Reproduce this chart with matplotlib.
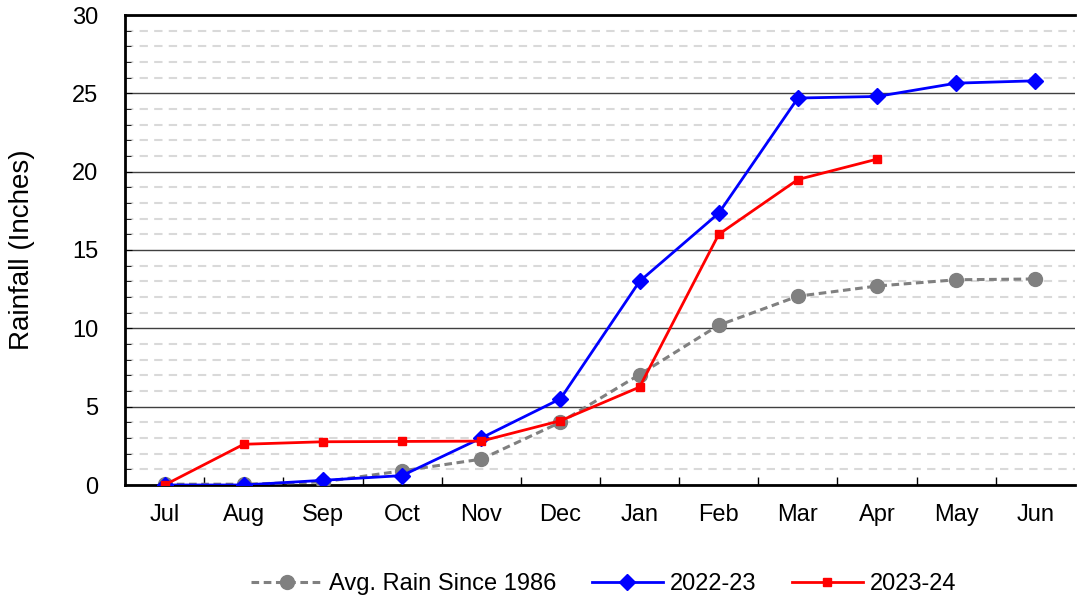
import matplotlib
matplotlib.use("Agg")
import matplotlib.pyplot as plt
from matplotlib.ticker import MultipleLocator, FixedLocator
import numpy as np

plt.rcParams['font.family'] = ['Liberation Sans', 'DejaVu Sans']

months = ["Jul", "Aug", "Sep", "Oct", "Nov", "Dec", "Jan", "Feb", "Mar", "Apr", "May", "Jun"]
avg_rain = [0.05, 0.05, 0.2, 0.9, 1.65, 4.0, 7.05, 10.2, 12.05, 12.7, 13.1, 13.15]
rain_2022_23 = [0.0, 0.0, 0.3, 0.6, 3.0, 5.5, 13.0, 17.35, 24.7, 24.8, 25.65, 25.8]
rain_2023_24 = [0.0, 2.6, 2.76, 2.78, 2.8, 4.1, 6.25, 16.0, 19.5, 20.8]

fig = plt.figure(figsize=(10.78, 6.01), dpi=100)
ax = fig.add_axes([125/1078, 1-485/601, 950/1078, 470/601])

x = np.arange(len(months)) + 0.5
ax.plot(x, avg_rain, color='#808080', linestyle=(0, (2.5, 1.5)), linewidth=2.2, marker='o', markersize=10,
        label='Avg. Rain Since 1986', zorder=3)
ax.plot(x, rain_2022_23, color='#0000ff', linewidth=2, marker='D', markersize=8,
        label='2022-23', zorder=4)
ax.plot(x[:len(rain_2023_24)], rain_2023_24, color='#ff0000', linewidth=2, marker='s', markersize=6,
        label='2023-24', zorder=5)

ax.set_xlim(0, 12)
ax.set_ylim(0, 30)
ax.set_xticks(x)
ax.set_xticklabels(months, fontsize=17)
ax.xaxis.set_minor_locator(FixedLocator(np.arange(1, 12)))
ax.tick_params(axis='x', which='major', length=0, pad=14)
ax.tick_params(axis='x', which='minor', direction='in', length=6, width=1, color='#000000')
ax.yaxis.set_major_locator(MultipleLocator(5))
ax.yaxis.set_minor_locator(MultipleLocator(1))
ax.tick_params(axis='y', which='major', direction='in', length=5, labelsize=17, pad=19)
ax.tick_params(axis='y', which='minor', direction='in', length=4)
ax.grid(which='major', axis='y', color='#404040', linewidth=1, linestyle='-', zorder=1)
ax.grid(which='minor', axis='y', color='#d9d9d9', linewidth=1.5, linestyle=(0, (4, 3)), zorder=0)
ax.set_axisbelow(True)

ax.spines['right'].set_visible(False)
for s in ['left', 'bottom', 'top']:
    ax.spines[s].set_linewidth(2)
    ax.spines[s].set_color('black')

ax.set_ylabel('Rainfall (Inches)', fontsize=20)
ax.yaxis.set_label_coords(-0.095, 0.5)

leg = fig.legend(loc='center', bbox_to_anchor=(0.56, 1-584/601), ncol=3, frameon=False,
                 fontsize=17, handlelength=3.0, handletextpad=0.3, columnspacing=1.5)

fig.savefig('out.png', dpi=100)
